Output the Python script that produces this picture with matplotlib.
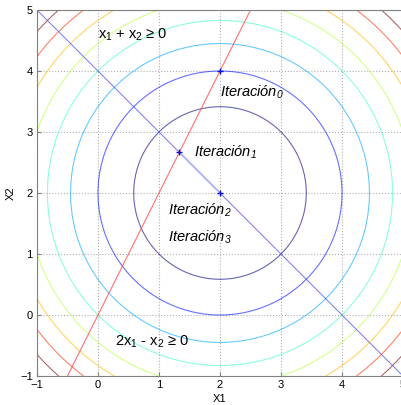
import matplotlib
matplotlib.use("Agg")
import matplotlib.pyplot as plt
import numpy as np

plt.rcParams['font.family'] = ['Liberation Sans', 'DejaVu Sans']
plt.rcParams['mathtext.default'] = 'regular'

# objective: (x1-2)^2 + (x2-2)^2, contour levels
center = (2.0, 2.0)
levels = [2, 4, 6, 8, 10, 12, 14, 16]

# constraint lines: x1 + x2 = 4 and 2x1 - x2 = 0
line1_x = [-1, 5]
line1_y = [5, -1]
line2_x = [-0.5, 2.5]
line2_y = [-1, 5]

# iterates
iter_x = [2.0, 4 / 3, 2.0]
iter_y = [4.0, 8 / 3, 2.0]

ticks = [-1, 0, 1, 2, 3, 4, 5]

labels = [
    (2.0, 3.65, 'Iteración$_0$'),
    (1.57, 2.67, 'Iteración$_1$'),
    (1.15, 1.72, 'Iteración$_2$'),
    (1.15, 1.28, 'Iteración$_3$'),
]

fig = plt.figure(figsize=(4.01, 4.05), dpi=100)
ax = fig.add_axes([37 / 401, 29 / 405, 366 / 401, 366 / 405])

g = np.linspace(-1, 5, 400)
X1, X2 = np.meshgrid(g, g)
F = (X1 - center[0]) ** 2 + (X2 - center[1]) ** 2
ax.contour(X1, X2, F, levels=levels, cmap='jet', vmin=levels[0], vmax=levels[-1],
           linewidths=0.8, alpha=0.6)

ax.plot(line1_x, line1_y, color='#5555ee', lw=0.7, alpha=0.8)
ax.plot(line2_x, line2_y, color='#ff4444', lw=0.8, alpha=0.75)
ax.plot(iter_x[1:], iter_y[1:], color='#b4b8ff', lw=1.4, alpha=0.8)
ax.plot(iter_x, iter_y, '+', color='#1010d0', ms=5, mew=1.0, ls='none')

for x, y, s in labels:
    ax.text(x, y, s, fontsize=10.5, style='italic', va='center', ha='left')
ax.text(0.0, 4.59, 'x$_1$ + x$_2$ ≥ 0', fontsize=10.5, va='center', ha='left')
ax.text(0.28, -0.44, '2x$_1$ - x$_2$ ≥ 0', fontsize=10.5, va='center', ha='left')

ax.set_xlim(-1, 5)
ax.set_ylim(-1, 5)
ax.set_xticks(ticks)
ax.set_yticks(ticks)
ax.grid(True, ls=':', color='#b0b0b0', lw=0.8)
ax.tick_params(direction='in', labelsize=8, length=3, color='#808080', pad=3)
for sp in ax.spines.values():
    sp.set_color('#808080')
    sp.set_linewidth(0.8)
ax.set_xlabel('X1', fontsize=8, labelpad=3)
ax.set_ylabel('X2', fontsize=8, labelpad=3)

fig.savefig('out.png', dpi=100)
